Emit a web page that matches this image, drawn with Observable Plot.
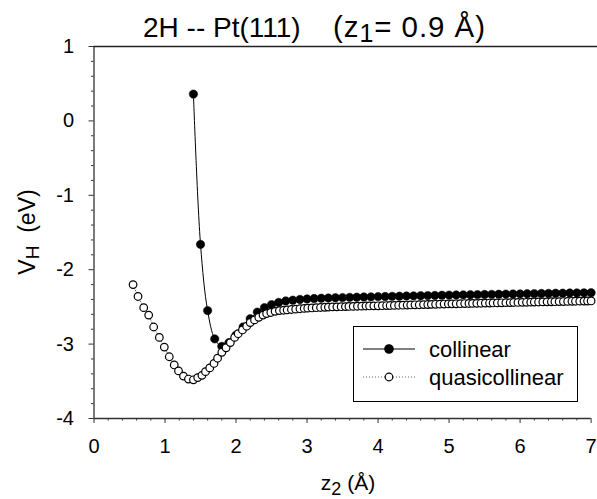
<!DOCTYPE html>
<html><head><meta charset="utf-8">
<script src="https://cdn.jsdelivr.net/npm/d3@7"></script>
<script src="https://cdn.jsdelivr.net/npm/@observablehq/plot@0.6"></script>
<style>
body{margin:0;background:#fff;}
#chart{width:597px;height:499px;}
svg text{white-space:pre;}
</style></head><body><div id="chart"></div>
<script>
// collinear (filled circles)
const collZ = [1.4,1.5,1.6,1.7,1.8,1.9,2.0,2.1,2.2,2.3,2.4,2.5,2.6,2.7,2.8,2.9,
  3.0,3.1,3.2,3.3,3.4,3.5,3.6,3.7,3.8,3.9,4.0,4.1,4.2,4.3,4.4,4.5,4.6,4.7,4.8,4.9,
  5.0,5.1,5.2,5.3,5.4,5.5,5.6,5.7,5.8,5.9,6.0,6.1,6.2,6.3,6.4,6.5,6.6,6.7,6.8,6.9,7.0];
const collV = [0.36,-1.66,-2.55,-2.93,-3.03,-2.98,-2.88,-2.77,-2.66,-2.57,-2.51,-2.47,-2.44,-2.42,-2.41,-2.40,
  -2.393,-2.388,-2.384,-2.381,-2.378,-2.375,-2.372,-2.370,-2.367,-2.365,-2.362,-2.360,-2.358,-2.356,-2.354,-2.352,-2.350,-2.348,-2.346,-2.344,
  -2.342,-2.340,-2.338,-2.337,-2.335,-2.333,-2.332,-2.330,-2.328,-2.327,-2.325,-2.323,-2.322,-2.320,-2.319,-2.317,-2.316,-2.314,-2.313,-2.311,-2.310];
// quasicollinear (open circles)
const quasiZ = [0.55,0.62,0.70,0.77,0.84,0.92,0.99,1.06,1.13,1.19,1.26,1.33,1.40,1.46,1.52,1.57,1.63,1.69,1.74,1.80,
  1.86,1.92,1.98,2.03,2.09,2.15,2.20,2.26,2.32,2.38,2.43,2.49,2.55,2.61,2.67,2.72,2.78,2.84,2.90,2.96,
  3.01,3.07,3.13,3.19,3.25,3.30,3.36,3.42,3.48,3.54,3.59,3.65,3.71,3.77,3.83,3.88,3.94,4.00,4.06,4.12,
  4.17,4.23,4.29,4.35,4.41,4.46,4.52,4.58,4.64,4.70,4.75,4.81,4.87,4.93,4.99,5.04,5.10,5.16,5.22,5.28,
  5.33,5.39,5.45,5.51,5.57,5.62,5.68,5.74,5.80,5.86,5.91,5.97,6.03,6.09,6.15,6.20,6.26,6.32,6.38,6.44,
  6.49,6.55,6.61,6.67,6.73,6.78,6.84,6.90,6.95,7.00];
const quasiV = [-2.20,-2.36,-2.51,-2.61,-2.77,-2.91,-3.04,-3.17,-3.28,-3.36,-3.43,-3.47,-3.48,-3.45,-3.42,-3.37,-3.32,-3.26,-3.19,-3.11,
  -3.05,-2.98,-2.91,-2.86,-2.81,-2.76,-2.71,-2.675,-2.64,-2.61,-2.59,-2.575,-2.56,-2.55,-2.545,-2.54,-2.535,-2.53,-2.525,-2.52,
  -2.517,-2.514,-2.511,-2.508,-2.505,-2.503,-2.500,-2.499,-2.497,-2.496,-2.494,-2.493,-2.491,-2.490,-2.488,-2.487,-2.486,-2.485,-2.484,-2.482,
  -2.481,-2.480,-2.478,-2.477,-2.475,-2.474,-2.472,-2.471,-2.469,-2.468,-2.466,-2.465,-2.463,-2.462,-2.460,-2.459,-2.458,-2.457,-2.455,-2.454,
  -2.453,-2.452,-2.451,-2.449,-2.448,-2.447,-2.446,-2.445,-2.443,-2.442,-2.441,-2.440,-2.439,-2.438,-2.436,-2.435,-2.434,-2.433,-2.432,-2.431,
  -2.430,-2.429,-2.428,-2.426,-2.425,-2.424,-2.423,-2.422,-2.421,-2.420];
const xTicks = [0,1,2,3,4,5,6,7];
const yTicks = [-4,-3,-2,-1,0,1];
const seriesNames = ["collinear","quasicollinear"];

const coll = collZ.map((z,i)=>({z, v: collV[i]}));
const quasi = quasiZ.map((z,i)=>({z, v: quasiV[i]}));
const minorX = d3.range(0, 35).map(i => +(i*0.2).toFixed(1)).filter(d => !xTicks.includes(d) && d <= 7);
const minorY = d3.range(0, 25).map(i => +(-4 + i*0.2).toFixed(1)).filter(d => !yTicks.includes(d) && d <= 1);

const font = "'Liberation Sans', Arial, Helvetica, sans-serif";
const axisColor = "#333";

const chart = Plot.plot({
  width: 597, height: 499,
  marginLeft: 93.5, marginRight: 0, marginTop: 46, marginBottom: 81,
  style: {fontFamily: font, fontSize: "20px", color: "#000", background: "#fff", overflow: "visible"},
  x: {domain: [0, 7.09], label: null},
  y: {domain: [-4, 1], label: null},
  marks: [
    Plot.axisX({ticks: minorX, tickSize: 2.5, stroke: axisColor, tickFormat: () => "", label: null}),
    Plot.axisY({ticks: minorY, tickSize: 2.5, stroke: axisColor, tickFormat: () => "", label: null}),
    Plot.axisX({ticks: xTicks, tickSize: 5, tickPadding: 15, stroke: axisColor, tickFormat: d => String(d), label: null, fontSize: 20}),
    Plot.axisY({ticks: yTicks, tickSize: 5, tickPadding: 15, stroke: axisColor, tickFormat: d => String(d), label: null, fontSize: 20}),
    Plot.ruleX([0], {stroke: axisColor, strokeWidth: 1.3}),
    Plot.ruleY([-4], {x1: 0, x2: 7, stroke: axisColor, strokeWidth: 1.3}),
    Plot.ruleY([1], {stroke: "#222", strokeWidth: 1.6}),
    Plot.line(coll, {x: "z", y: "v", stroke: "#000", strokeWidth: 1, curve: "catmull-rom"}),
    Plot.dot(coll, {x: "z", y: "v", r: 4.2, fill: "#000", stroke: "#000", strokeWidth: 0.5}),
    Plot.line(quasi, {x: "z", y: "v", stroke: "#666", strokeWidth: 1, strokeDasharray: "1,2"}),
    Plot.dot(quasi, {x: "z", y: "v", r: 3.8, fill: "#fff", stroke: "#000", strokeWidth: 1.2})
  ]
});
document.getElementById("chart").appendChild(chart);

const svg = d3.select(chart);
// Title (two parts so that their extents match the reference)
svg.append("text").attr("x", 143).attr("y", 37).attr("text-anchor", "start")
  .attr("font-size", 28).attr("font-family", font).attr("fill", "#000")
  .text("2H -- Pt(111)");
const t2 = svg.append("text").attr("x", 333).attr("y", 37).attr("text-anchor", "start")
  .attr("font-size", 29.5).attr("font-family", font).attr("fill", "#000")
  .attr("textLength", 152).attr("lengthAdjust", "spacing");
t2.append("tspan").text("(z");
t2.append("tspan").attr("font-size", 25).attr("dy", 5).text("1");
t2.append("tspan").attr("dy", -5).text("= 0.9 Å)");

// Y label
const yl = svg.append("text").attr("transform", "translate(35,232) rotate(-90)")
  .attr("text-anchor", "middle").attr("font-size", 23).attr("font-family", font).attr("fill", "#000");
yl.append("tspan").text("V");
yl.append("tspan").attr("font-size", 19).attr("dy", 4).text("H");
yl.append("tspan").attr("dy", -4).text("  (eV)");

// X label
const xl = svg.append("text").attr("x", 348).attr("y", 490)
  .attr("text-anchor", "middle").attr("font-size", 21).attr("font-family", font).attr("fill", "#000");
xl.append("tspan").text("z");
xl.append("tspan").attr("font-size", 18).attr("dy", 5).text("2");
xl.append("tspan").attr("dy", -5).text(" (Å)");

// Legend
const lg = svg.append("g").attr("font-family", font).attr("font-size", 22).attr("text-anchor", "start");
lg.append("rect").attr("x", 353.5).attr("y", 326.5).attr("width", 224).attr("height", 75)
  .attr("fill", "#fff").attr("stroke", "#000").attr("stroke-width", 1);
const rows = [
  {name: seriesNames[0], y: 349, dash: null, lineStroke: "#000", fill: "#000", r: 4.2},
  {name: seriesNames[1], y: 377, dash: "1,2", lineStroke: "#666", fill: "#fff", r: 3.8}
];
rows.forEach(r => {
  lg.append("line").attr("x1", 363).attr("x2", 415).attr("y1", r.y).attr("y2", r.y)
    .attr("stroke", r.lineStroke).attr("stroke-width", 1).attr("stroke-dasharray", r.dash);
  lg.append("circle").attr("cx", 389).attr("cy", r.y).attr("r", r.r)
    .attr("fill", r.fill).attr("stroke", "#000").attr("stroke-width", 1.2);
  lg.append("text").attr("x", 429).attr("y", r.y + 8).attr("fill", "#000").text(r.name);
});
</script></body></html>
